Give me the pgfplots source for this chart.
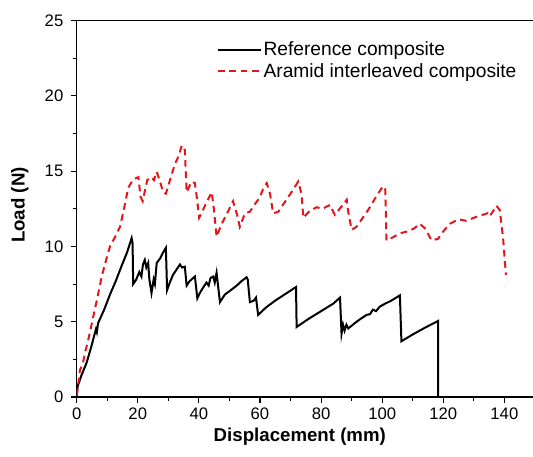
\documentclass[border=0pt]{standalone}
\usepackage{fontspec}
\setmainfont{Liberation Sans}
\usepackage{pgfplots}
\pgfplotsset{compat=1.18}
\definecolor{aramidred}{RGB}{228,20,28}

\begin{document}
\begin{tikzpicture}
\begin{axis}[
    name=ax,
    scale only axis,
    width=343.7pt, height=282.4pt,
    xmin=0, xmax=150, ymin=0, ymax=25,
    xtick={0,20,...,140}, ytick={0,5,...,25},
    minor x tick num=1, minor y tick num=1,
    tick pos=left, tick align=outside,
    major tick length=4.5pt, minor tick length=3pt,
    axis line style={line width=0.8pt},
    every tick/.style={black, line width=0.8pt},
    /pgf/number format/assume math mode=true,
    ticklabel style={font=\fontsize{12.5}{14}\selectfont},
    yticklabel style={xshift=-2pt},
    xlabel={Displacement (mm)},
    ylabel={Load (N)},
    label style={font=\fontsize{14}{16}\selectfont\bfseries},
    xlabel style={at={(axis description cs:0.487,-0.106)}, anchor=center},
    ylabel style={at={(axis description cs:-0.124,0.51)}, anchor=center},
    legend style={at={(axis cs:44.5,23.9)}, anchor=north west, draw=none, fill=none,
        font=\fontsize{14.4}{16}\selectfont, row sep=1pt,
        nodes={inner sep=1.5pt}},
    legend cell align=left,
    legend image code/.code={\draw[#1] (0pt,0pt) -- (32pt,0pt);},
]
% reference composite
\addplot[black, line width=1.5pt] coordinates {
(0,0) (0.3,0.7) (1.5,1.4) (3.3,2.3) (5.0,3.5) (6.3,4.5) (6.6,4.3) (7.0,4.9)
(9.0,5.8) (10.9,6.8) (12.8,7.7) (14.7,8.7) (16.5,9.6) (18.0,10.55) (18.3,10.2)
(18.5,7.5) (19.5,7.8) (20.5,8.3) (21.2,8.0) (21.7,8.8) (22.3,9.1) (22.8,8.6)
(23.4,8.9) (23.8,7.8) (24.5,6.9) (25.2,7.8) (25.6,7.5) (26.2,8.9) (27.3,9.2)
(28.3,9.6) (29.2,9.9) (29.6,7.1) (30.5,7.6) (31.5,8.1) (32.5,8.4) (33.8,8.8)
(34.5,8.6) (35.4,8.65) (36.0,7.4) (37.0,7.7) (38.7,8.0) (39.5,6.55) (40.3,6.9)
(41.5,7.3) (42.5,7.6) (43.2,7.4) (43.8,7.9) (44.7,8.0) (45.2,7.6) (45.8,8.25)
(46.9,6.3) (48.5,6.8) (50.5,7.1) (52.4,7.4) (54.0,7.7) (55.6,7.95) (56.0,7.8)
(56.7,6.3) (58.0,6.4) (58.7,6.6) (59.4,5.45) (62,5.95) (65,6.4) (68,6.8)
(71.8,7.3) (72.0,4.65) (76,5.2) (80,5.7) (84,6.2) (86.2,6.6) (86.7,4.2)
(87.2,4.8) (87.7,4.4) (88.3,4.8) (88.9,4.55) (91,4.9) (93,5.2) (94.9,5.45)
(96,5.5) (97,5.8) (98,5.7) (99.2,6.0) (101,6.2) (103,6.4) (105.8,6.75)
(106.3,3.7) (110,4.15) (114,4.6) (118.3,5.05) (118.3,0)
};
\addlegendentry{Reference composite}
% aramid interleaved composite
\addplot[aramidred, line width=1.5pt, dash pattern=on 5pt off 3.5pt] coordinates {
(0,0.1) (0.3,0.5) (1.1,1.8) (2.0,2.2) (2.8,3.0) (3.8,3.8) (5.4,5.3) (6.8,6.6)
(8.2,8.0) (9.5,9.0) (10.9,10.0) (12.5,10.6) (14.2,11.3) (15.5,12.5) (16.9,13.9)
(18.5,14.45) (20.2,14.6) (20.9,13.3) (21.6,13.0) (23.1,14.4) (24.5,14.6)
(25.3,14.4) (26.2,14.95) (27.3,14.3) (28.3,13.6) (29.2,13.5) (30.7,14.5)
(32.2,15.5) (33.4,16.0) (34.4,16.7) (35.4,16.4) (36.0,13.6) (37.6,14.3)
(38.7,14.2) (39.3,13.3) (40.1,11.9) (42,12.7) (44.2,13.6) (44.9,12.5)
(45.8,10.65) (47.5,11.5) (49.5,12.3) (51.2,13.0) (52.5,12.1) (53.4,11.3)
(55.1,12.2) (56.7,12.3) (58.3,12.8) (59.8,13.2) (61,13.8) (62.2,14.2)
(63.3,13.5) (64.3,12.2) (66.0,12.3) (68,12.9) (70,13.5) (72.5,14.3) (73.6,13.5)
(74.2,11.9) (76,12.3) (78.5,12.6) (80.5,12.5) (82.9,12.75) (84.5,12.1)
(86.5,12.6) (88.4,13.1) (88.9,12.3) (90.0,11.1) (91.6,11.3) (94,12.0) (96,12.6)
(98,13.3) (100.3,14.0) (101.0,13.8) (101.4,10.4) (103.5,10.6) (105.8,10.87)
(108.5,11.0) (110.5,11.2) (112.3,11.5) (114,11.2) (116.2,10.4) (118.3,10.5)
(120,11.0) (122.2,11.5) (124.9,11.8) (127.5,11.7) (130,11.9) (133,12.1)
(134.5,12.2) (135.2,12.0) (136.5,12.4) (137.4,12.7) (138.5,12.4) (139.6,10.5)
(140.5,8.1)
};
\addlegendentry{Aramid interleaved composite}
\end{axis}
\pgfresetboundingbox
\path[use as bounding box] (ax.south west) ++(-57.5pt,-45pt) rectangle ++(399.75pt,342.75pt);
\end{tikzpicture}
\end{document}
